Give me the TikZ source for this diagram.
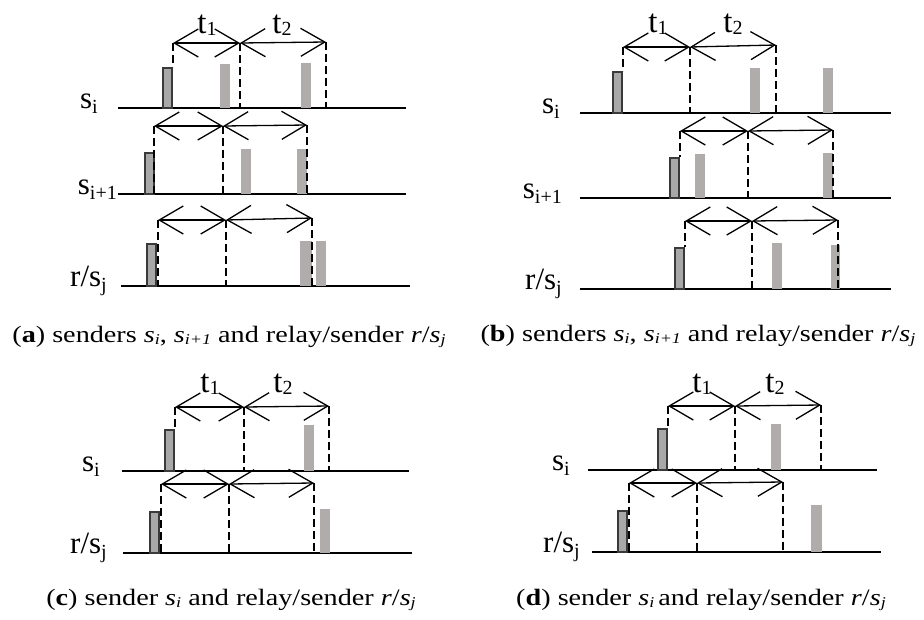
\documentclass[tikz,border=0pt]{standalone}
\usepackage{fontspec}
\setmainfont{Liberation Serif}
\newfontfamily\capfont[FakeStretch=1.2]{Liberation Serif}
\usetikzlibrary{arrows.meta}

\definecolor{boxedge}{HTML}{3A3A3A}
\definecolor{boxfill}{HTML}{A8A8A8}
\definecolor{echogray}{HTML}{B0ACAC}

\newcommand{\lowsub}[1]{\raisebox{-5pt}{\fontsize{20}{20}\selectfont #1}}
\newcommand{\tsub}[1]{\raisebox{-2pt}{\fontsize{20}{20}\selectfont #1}}
\newcommand{\capsub}[1]{\raisebox{-2pt}{\fontsize{15}{15}\selectfont\itshape #1}}
\newcommand{\capsi}{\textit{s}\capsub{i}}

\tikzset{
  axis/.style={line width=1.3pt},
  gap/.style={line width=1.6pt,dash pattern=on 8pt off 4pt},
  span/.style={line width=1.3pt,{Straight Barb[length=24pt,width=28pt]}-{Straight Barb[length=24pt,width=28pt]}},
  own/.style={draw=boxedge,fill=boxfill,line width=2.5pt},
  echo/.style={fill=echogray},
  lbl/.style={font=\fontsize{31}{31}\selectfont,anchor=base east,inner sep=0pt},
  tlbl/.style={font=\fontsize{33}{33}\selectfont,anchor=base,inner sep=0pt},
  capt/.style={font=\capfont\fontsize{23.5}{27}\selectfont,anchor=base,inner sep=0pt}
}

\begin{document}
\begin{tikzpicture}[x=1pt,y=-1pt]
\useasboundingbox (0,0) rectangle (924,619);

% (a) row s_i
\node[lbl] (la1) at (98,108) {s\lowsub{i}};
\draw[axis] (118,108) -- (406,108);
\draw[own] (163.2,68.2) rectangle (171.8,108);
\foreach \x/\t in {220/64,301/63} \fill[echo] (\x,\t) rectangle (\x+10,108);
\coordinate (a1p) at (173,43); \coordinate (a1q) at (240,43); \coordinate (a1r) at (326,42);
\draw[gap] (a1p) -- (173,67); \draw[gap] (a1q) -- (240,108); \draw[gap] (a1r) -- (326,108);
\draw[span] (a1p) -- (a1q); \draw[span] (a1q) -- (a1r);
\node[tlbl] (ta1) at (207,33) {t\tsub{1}};
\node[tlbl] (ta2) at (282,33) {t\tsub{2}};

% (a) row s_i+1
\node[lbl] (la2) at (117,194) {s\lowsub{i+1}};
\draw[axis] (118,194) -- (406,194);
\draw[own] (145.2,153.2) rectangle (153.8,194);
\foreach \x in {241,297} \fill[echo] (\x,149) rectangle (\x+10,194);
\coordinate (a2p) at (154,126); \coordinate (a2q) at (223,126); \coordinate (a2r) at (307,125);
\draw[gap] (a2p) -- (154,194); \draw[gap] (a2q) -- (223,194); \draw[gap] (a2r) -- (307,194);
\draw[span] (a2p) -- (a2q); \draw[span] (a2q) -- (a2r);

% (a) row r/s_j
\node[lbl] (la3) at (107,286) {r/s\lowsub{j}};
\draw[axis] (121,286) -- (410,286);
\draw[own] (147.2,244.2) rectangle (155.8,286);
\fill[echo] (300,241) rectangle (312,286);
\fill[echo] (316,241) rectangle (326,286);
\coordinate (a3p) at (158,220); \coordinate (a3q) at (226,220); \coordinate (a3r) at (312,218);
\draw[gap] (a3p) -- (158,286); \draw[gap] (a3q) -- (226,286); \draw[gap] (a3r) -- (312,286);
\draw[span] (a3p) -- (a3q); \draw[span] (a3q) -- (a3r);

\node[capt] (capa) at (229,342) {(\textbf{a}) senders \capsi, \textit{s}\capsub{i+1} and relay/sender \textit{r}/\textit{s}\capsub{j}};

% (b) row s_i
\node[lbl] (lb1) at (560,113) {s\lowsub{i}};
\draw[axis] (580,113) -- (891,113);
\draw[own] (613.2,72.2) rectangle (621.8,113);
\foreach \x in {750,823} \fill[echo] (\x,68) rectangle (\x+10,113);
\coordinate (b1p) at (623,47); \coordinate (b1q) at (690,47); \coordinate (b1r) at (776,45);
\draw[gap] (b1p) -- (623,71); \draw[gap] (b1q) -- (690,113); \draw[gap] (b1r) -- (776,113);
\draw[span] (b1p) -- (b1q); \draw[span] (b1q) -- (b1r);
\node[tlbl] (tb1) at (658,32) {t\tsub{1}};
\node[tlbl] (tb2) at (733,32) {t\tsub{2}};

% (b) row s_i+1
\node[lbl] (lb2) at (562,198) {s\lowsub{i+1}};
\draw[axis] (580,198) -- (891,198);
\draw[own] (670.2,158.2) rectangle (678.8,198);
\fill[echo] (695,154) rectangle (705,198);
\fill[echo] (823,153) rectangle (833,198);
\coordinate (b2p) at (680,131); \coordinate (b2q) at (748,131); \coordinate (b2r) at (833,130);
\draw[gap] (b2p) -- (680,157); \draw[gap] (b2q) -- (748,198); \draw[gap] (b2r) -- (833,198);
\draw[span] (b2p) -- (b2q); \draw[span] (b2q) -- (b2r);

% (b) row r/s_j
\node[lbl] (lb3) at (562,289) {r/s\lowsub{j}};
\draw[axis] (580,289) -- (891,289);
\draw[own] (675.2,248.2) rectangle (683.8,289);
\fill[echo] (772,243) rectangle (782,289);
\fill[echo] (831,245) rectangle (840,289);
\coordinate (b3p) at (685,221); \coordinate (b3q) at (752,221); \coordinate (b3r) at (838,220);
\draw[gap] (b3p) -- (685,247); \draw[gap] (b3q) -- (752,289); \draw[gap] (b3r) -- (838,289);
\draw[span] (b3p) -- (b3q); \draw[span] (b3q) -- (b3r);

\node[capt] (capb) at (698,341) {(\textbf{b}) senders \capsi, \textit{s}\capsub{i+1} and relay/sender \textit{r}/\textit{s}\capsub{j}};

% (c) row s_i
\node[lbl] (lc1) at (100,471) {s\lowsub{i}};
\draw[axis] (122,471) -- (409,471);
\draw[own] (165.2,430.2) rectangle (173.8,471);
\fill[echo] (304,425) rectangle (314,471);
\coordinate (c1p) at (175,407); \coordinate (c1q) at (244,407); \coordinate (c1r) at (329,406);
\draw[gap] (c1p) -- (175,429); \draw[gap] (c1q) -- (244,471); \draw[gap] (c1r) -- (329,471);
\draw[span] (c1p) -- (c1q); \draw[span] (c1q) -- (c1r);
\node[tlbl] (tc1) at (210,392) {t\tsub{1}};
\node[tlbl] (tc2) at (283,392) {t\tsub{2}};

% (c) row r/s_j
\node[lbl] (lc2) at (107,553) {r/s\lowsub{j}};
\draw[axis] (123,553) -- (412,553);
\draw[own] (150.2,512.2) rectangle (158.8,553);
\fill[echo] (320,509) rectangle (330,553);
\coordinate (c2p) at (161,484); \coordinate (c2q) at (229,484); \coordinate (c2r) at (314,483);
\draw[gap] (c2p) -- (161,553); \draw[gap] (c2q) -- (229,553); \draw[gap] (c2r) -- (314,553);
\draw[span] (c2p) -- (c2q); \draw[span] (c2q) -- (c2r);

\node[capt] (capc) at (231,605) {(\textbf{c}) sender \capsi{} and relay/sender \textit{r}/\textit{s}\capsub{j}};

% (d) row s_i
\node[lbl] (ld1) at (570,470) {s\lowsub{i}};
\draw[axis] (588,470) -- (877,470);
\draw[own] (658.2,429.2) rectangle (666.8,470);
\fill[echo] (771,424) rectangle (781,470);
\coordinate (d1p) at (668,406); \coordinate (d1q) at (735,406); \coordinate (d1r) at (821,405);
\draw[gap] (d1p) -- (668,428); \draw[gap] (d1q) -- (735,470); \draw[gap] (d1r) -- (821,470);
\draw[span] (d1p) -- (d1q); \draw[span] (d1q) -- (d1r);
\node[tlbl] (td1) at (702,392) {t\tsub{1}};
\node[tlbl] (td2) at (775,392) {t\tsub{2}};

% (d) row r/s_j
\node[lbl] (ld2) at (580,552) {r/s\lowsub{j}};
\draw[axis] (592,552) -- (881,552);
\draw[own] (618.2,511.2) rectangle (626.8,552);
\fill[echo] (811,505) rectangle (822,552);
\coordinate (d2p) at (629,483); \coordinate (d2q) at (697,483); \coordinate (d2r) at (783,482);
\draw[gap] (d2p) -- (629,552); \draw[gap] (d2q) -- (697,552); \draw[gap] (d2r) -- (783,552);
\draw[span] (d2p) -- (d2q); \draw[span] (d2q) -- (d2r);

\node[capt] (capd) at (701,605) {(\textbf{d}) sender \capsi\,and relay/sender \textit{r}/\textit{s}\capsub{j}};
\end{tikzpicture}
\end{document}
